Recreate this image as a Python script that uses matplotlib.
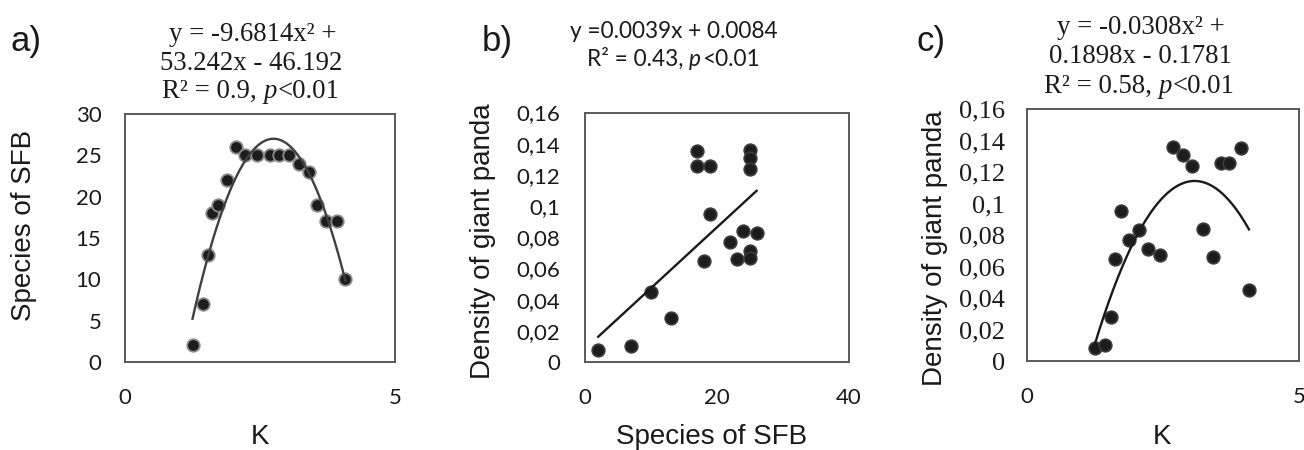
import numpy as np
import matplotlib
matplotlib.use("Agg")
import matplotlib.pyplot as plt

# data
k_values = [1.25, 1.44, 1.54, 1.61, 1.72, 1.88, 2.05, 2.23, 2.44, 2.68, 2.86, 3.04,
            3.23, 3.41, 3.56, 3.72, 3.93, 4.08]
sfb_species = [2, 7, 13, 18, 19, 22, 26, 25, 25, 25, 25, 25, 24, 23, 19, 17, 17, 10]
panda_density = [0.008, 0.010, 0.028, 0.065, 0.095, 0.077, 0.083, 0.071, 0.067, 0.136,
                 0.131, 0.124, 0.084, 0.066, 0.126, 0.126, 0.135, 0.045]

# trendline coefficients printed on the chart
fit_a = [-9.6814, 53.242, -46.192]
fit_b = [0.0039, 0.0084]
fit_c = [-0.0308, 0.1898, -0.1781]

k_ticks = [0, 5]
sfb_ticks = [0, 5, 10, 15, 20, 25, 30]
species_ticks = [0, 20, 40]
density_ticks = [0, 0.02, 0.04, 0.06, 0.08, 0.1, 0.12, 0.14, 0.16]
density_labels = ["0", "0,02", "0,04", "0,06", "0,08", "0,1", "0,12", "0,14", "0,16"]

W, H = 1304, 450
SANS = "Liberation Sans"
TICKF = "Lato"
SERIF = "Liberation Serif"


def fx(px):
    return px / W


def fy(py):
    return 1 - py / H


fig = plt.figure(figsize=(W / 100, H / 100), dpi=100)
renderer = fig.canvas.get_renderer()


def estilo(ax, pad_x, pad_y):
    for s in ax.spines.values():
        s.set_color("#595959")
        s.set_linewidth(1.4)
    ax.tick_params(length=0, labelsize=16)
    ax.tick_params(axis="x", pad=pad_x)
    ax.tick_params(axis="y", pad=pad_y)
    for lab in ax.get_xticklabels() + ax.get_yticklabels():
        lab.set_family(TICKF)
        lab.set_color("#1a1a1a")


def stat_line(cx, base, pre, post, fam, size):
    # line like "R² = 0.9, p<0.01" with italic p, centred on cx (pixels)
    gap = 0.25 * size * 100 / 72
    partes = [(pre, "normal"), ("p", "italic"), (post, "normal")]
    textos = [fig.text(0, fy(base), s, family=fam, fontstyle=st, size=size,
                       ha="left", va="baseline", color="#1a1a1a") for s, st in partes]
    anchos = [t.get_window_extent(renderer).width for t in textos]
    total = sum(anchos) + gap + 1
    x = cx - total / 2
    textos[0].set_x(fx(x))
    x += anchos[0] + gap
    textos[1].set_x(fx(x))
    x += anchos[1] + 1
    textos[2].set_x(fx(x))


def puntos(ax, x, y, edge):
    ax.plot(x, y, "o", ms=9, mfc="#1c1c1c", mec=edge, mew=1.3, zorder=3)


# ---- a) K vs species of SFB
ax_a = fig.add_axes([fx(125), fy(362), 270 / W, 248 / H])
puntos(ax_a, k_values, sfb_species, "#8a8a8a")
xa = np.linspace(min(k_values), max(k_values), 200)
ax_a.plot(xa, np.polyval(fit_a, xa), color="#404040", lw=1.7, zorder=4)
ax_a.set_xlim(0, 5)
ax_a.set_ylim(0, 30)
ax_a.set_xticks(k_ticks)
ax_a.set_yticks(sfb_ticks)
estilo(ax_a, 19, 17)

# ---- b) species of SFB vs density
ax_b = fig.add_axes([fx(585), fy(362), 264 / W, 249.5 / H])
puntos(ax_b, sfb_species, panda_density, "#3a3a3a")
xb = np.linspace(min(sfb_species), max(sfb_species), 50)
ax_b.plot(xb, np.polyval(fit_b, xb), color="#1a1a1a", lw=1.7, zorder=4)
ax_b.set_xlim(0, 40)
ax_b.set_ylim(0, 0.16)
ax_b.set_xticks(species_ticks)
ax_b.set_yticks(density_ticks)
ax_b.set_yticklabels(density_labels)
estilo(ax_b, 19, 18)

# ---- c) K vs density
ax_c = fig.add_axes([fx(1027), fy(361), 272 / W, 252 / H])
puntos(ax_c, k_values, panda_density, "#3a3a3a")
xc = np.linspace(min(k_values), max(k_values), 200)
ax_c.plot(xc, np.polyval(fit_c, xc), color="#1a1a1a", lw=1.7, zorder=4)
ax_c.set_xlim(0, 5)
ax_c.set_ylim(0, 0.16)
ax_c.set_xticks(k_ticks)
ax_c.set_yticks(density_ticks)
ax_c.set_yticklabels(density_labels)
estilo(ax_c, 19, 16)
for lab in ax_c.get_yticklabels():
    lab.set_family(SERIF)
    lab.set_size(19)

# axis labels
lab_kw = dict(family=SANS, size=20, color="#1a1a1a", ha="center", va="center")
fig.text(fx(24), fy(225), "Species of SFB", rotation=90, **lab_kw)
fig.text(fx(260), fy(437), "K", **lab_kw)
fig.text(fx(483), fy(241), "Density of giant panda", rotation=90, **lab_kw)
fig.text(fx(712), fy(437), "Species of SFB", **lab_kw)
fig.text(fx(935), fy(248), "Density of giant panda", rotation=90, **lab_kw)
fig.text(fx(1162), fy(437), "K", **lab_kw)

# panel letters
for x, s in [(11, "a)"), (482, "b)"), (917, "c)")]:
    fig.text(fx(x), fy(51), s, family=SANS, size=25, color="#1a1a1a",
             ha="left", va="baseline")

# equations
eq_kw = dict(family=SERIF, size=19.3, color="#1a1a1a", ha="center", va="baseline")
fig.text(fx(253), fy(41), "y = -9.6814x² +", **eq_kw)
fig.text(fx(251), fy(70), "53.242x - 46.192", **eq_kw)
stat_line(251, 98, "R² = 0.9,", "<0.01", SERIF, 19.3)

fig.text(fx(674), fy(38), "y =0.0039x + 0.0084", family=TICKF, size=16.3,
         color="#1a1a1a", ha="center", va="baseline")
stat_line(673, 66, "R² = 0.43,", "<0.01", TICKF, 16.3)

fig.text(fx(1141), fy(34), "y = -0.0308x² +", **eq_kw)
fig.text(fx(1140), fy(63), "0.1898x - 0.1781", **eq_kw)
stat_line(1139, 93, "R² = 0.58,", "<0.01", SERIF, 19.3)

fig.savefig("out.png", dpi=100)
